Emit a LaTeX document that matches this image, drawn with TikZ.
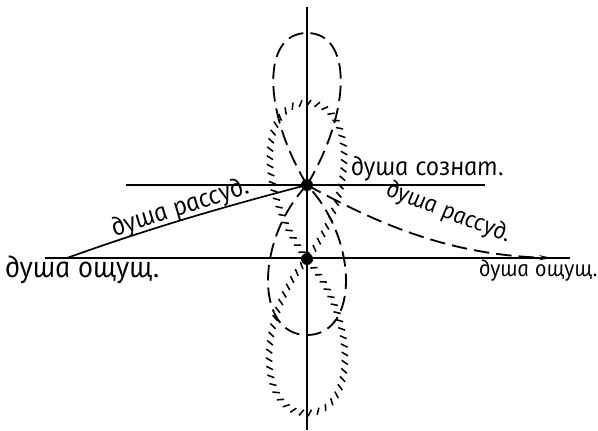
\documentclass[tikz,border=0pt]{standalone}
\usepackage{fontspec}
\setmainfont{PT Sans}
\newfontfamily\handfont[FakeSlant=-0.18]{PT Sans Italic}
\usetikzlibrary{arrows.meta,decorations.markings}

\begin{document}
\begin{tikzpicture}[
    x=0.025cm, y=-0.025cm,
    axis/.style={line width=1pt},
    dot/.style={circle, fill, inner sep=0pt, minimum size=8.5pt},
    lobe/.style={line width=1.3pt, dash pattern=on 11pt off 5pt},
    hatch/.style={decoration={markings, mark=between positions 0 and 1 step 6pt with {\draw[line width=1.1pt] (-1.4pt,-2.2pt) -- (1.4pt,2.2pt);}}, postaction={decorate}},
    lbl/.style={inner sep=1pt, font=\handfont}
]
    \useasboundingbox (0,0) rectangle (598,430);

    % --- axes ---
    \coordinate (axtop) at (307,7);
    \coordinate (axbot) at (307,430);
    \coordinate (upL) at (126,185);
    \coordinate (upR) at (485,185);
    \coordinate (loL) at (45,258);
    \coordinate (loR) at (570,258);
    \draw[axis] (axtop) -- (axbot);
    \draw[axis] (upL) -- (upR);
    \draw[axis] (loL) -- (loR);

    \node[dot] (soznat) at (307,185) {};
    \node[dot] (oshch) at (307,259) {};

    % --- dashed figure eight round the upper point ---
    \draw[lobe] (soznat.center) .. controls (262,110) and (262,33) .. (307,33)
        .. controls (352,33) and (352,110) .. (soznat.center);
    \draw[lobe] (soznat.center) .. controls (255,240) and (255,335) .. (307,335)
        .. controls (359,335) and (359,240) .. (soznat.center);

    % --- hatched figure eight round the lower point ---
    \path[hatch] (oshch.center) .. controls (255,190) and (260,103) .. (307,103)
        .. controls (354,103) and (359,190) .. (oshch.center);
    \path[hatch] (oshch.center) .. controls (255,320) and (258,413) .. (307,413)
        .. controls (356,413) and (359,320) .. (oshch.center);

    % --- the two curves ---
    \coordinate (rassL) at (67,258);
    \coordinate (rassR) at (552,258);
    \draw[line width=1.2pt] (rassL) .. controls (150,228) and (230,205) .. (soznat.center);
    \draw[lobe, -{Stealth[length=9pt, width=3.5pt]}] (soznat.center) .. controls (380,225) and (450,255) .. (rassR);

    % --- labels ---
    \node[lbl, font=\handfont\fontsize{19}{22}\selectfont] (tsoznat) at (428,169) {душа сознат.};
    \node[lbl, font=\handfont\fontsize{19}{22}\selectfont, rotate=18] (trassL) at (181,208) {душа рассуд.};
    \node[lbl, font=\handfont\fontsize{17.5}{20}\selectfont, rotate=-21] (trassR) at (449,213) {душа рассуд.};
    \node[lbl, font=\handfont\fontsize{21.5}{24}\selectfont] (toshL) at (83,270) {душа ощущ.};
    \node[lbl, font=\handfont\fontsize{16.5}{19}\selectfont] (toshR) at (539,271) {душа ощущ.};
\end{tikzpicture}
\end{document}
